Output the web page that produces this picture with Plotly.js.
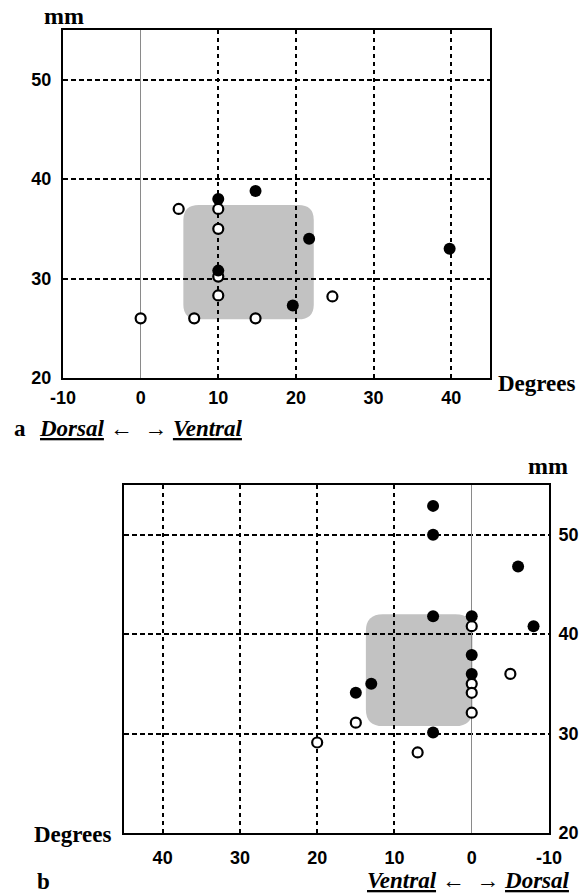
<!DOCTYPE html>
<html>
<head>
<meta charset="utf-8">
<script src="https://cdn.plot.ly/plotly-3.0.1.min.js"></script>
<style>html,body{margin:0;padding:0;background:#fff;}#chart{width:581px;height:893px;}</style>
</head>
<body>
<div id="chart"></div>
<script>
// ---- Panel a data ----
var aFilledX = [14.8, 10, 21.7, 10, 19.6, 39.8];
var aFilledY = [38.8, 38.0, 34.0, 30.8, 27.3, 33.0];
var aOpenX = [4.9, 10, 10, 10, 10, 24.7, 0, 6.9, 14.8];
var aOpenY = [37.0, 37.0, 35.0, 30.2, 28.3, 28.2, 26.0, 26.0, 26.0];
var aShade = [5.5, 22.3, 25.9, 37.4];   // x0, x1, y0, y1
var aTicksX = [-10, 0, 10, 20, 30, 40];
var aGridX = [10, 20, 30, 40];

// ---- Panel b data ----
var bFilledX = [5, 5, -6, 5, 0, -8, 0, 0, 13, 15, 5];
var bFilledY = [52.9, 50.0, 46.8, 41.8, 41.8, 40.8, 37.9, 36.0, 35.0, 34.1, 30.1];
var bOpenX = [0, -5, 0, 0, 0, 15, 20, 7];
var bOpenY = [40.8, 36.0, 35.0, 34.1, 32.1, 31.1, 29.1, 28.1];
var bShade = [13.7, -0.1, 30.75, 42.0];
var bTicksX = [40, 30, 20, 10, 0, -10];
var bGridX = [40, 30, 20, 10];

var ticksY = [20, 30, 40, 50];

var W = 581, H = 893;
function px(v){ return v / W; }
function py(v){ return 1 - v / H; }

var tickFont = {family: 'Liberation Sans, Arial, sans-serif', size: 18, color: '#000', weight: 'bold'};
var serifBold = {family: 'Liberation Serif, Times New Roman, serif', size: 23, color: '#000', weight: 'bold'};

function openTrace(x, y, xa, ya){
  return {x: x, y: y, xaxis: xa, yaxis: ya, type: 'scatter', mode: 'markers', hoverinfo: 'skip',
    marker: {size: 10, color: '#fff', line: {color: '#000', width: 2.2}}, cliponaxis: false};
}
function filledTrace(x, y, xa, ya){
  return {x: x, y: y, xaxis: xa, yaxis: ya, type: 'scatter', mode: 'markers', hoverinfo: 'skip',
    marker: {size: 12, color: '#000', line: {width: 0}}, cliponaxis: false};
}
function roundRect(s, rx, ry, xref, yref){
  var x0 = s[0], x1 = s[1], y0 = s[2], y1 = s[3];
  var sx = x1 > x0 ? 1 : -1;
  var p = 'M' + (x0 + sx*rx) + ',' + y0 +
    ' L' + (x1 - sx*rx) + ',' + y0 +
    ' Q' + x1 + ',' + y0 + ' ' + x1 + ',' + (y0 + ry) +
    ' L' + x1 + ',' + (y1 - ry) +
    ' Q' + x1 + ',' + y1 + ' ' + (x1 - sx*rx) + ',' + y1 +
    ' L' + (x0 + sx*rx) + ',' + y1 +
    ' Q' + x0 + ',' + y1 + ' ' + x0 + ',' + (y1 - ry) +
    ' L' + x0 + ',' + (y0 + ry) +
    ' Q' + x0 + ',' + y0 + ' ' + (x0 + sx*rx) + ',' + y0 + ' Z';
  return {type: 'path', path: p, xref: xref, yref: yref, fillcolor: '#c2c2c2',
    line: {width: 0}, layer: 'below'};
}

var data = [
  openTrace(aOpenX, aOpenY, 'x', 'y'),
  filledTrace(aFilledX, aFilledY, 'x3', 'y'),
  openTrace(bOpenX, bOpenY, 'x2', 'y2'),
  filledTrace(bFilledX, bFilledY, 'x4', 'y2')
];

var frame = {showline: true, mirror: true, linecolor: '#000', linewidth: 2};
var gridStyle = {gridcolor: '#000', gridwidth: 2, griddash: '5px,3px'};
var vGridStyle = {gridcolor: '#000', gridwidth: 2, griddash: '4px,4px'};

var layout = {
  width: W, height: H,
  margin: {l: 0, r: 0, t: 0, b: 0},
  paper_bgcolor: '#fff', plot_bgcolor: 'rgba(0,0,0,0)',
  showlegend: false,
  xaxis: Object.assign({domain: [px(63), px(490)], range: [-10, 45], anchor: 'y',
    tickmode: 'array', tickvals: aTicksX, ticktext: aTicksX.map(String),
    tickfont: tickFont, ticks: '', showgrid: false,
    zeroline: true, zerolinecolor: '#8a8a8a', zerolinewidth: 1,
    ticklabelstandoff: 2, fixedrange: true}, frame),
  xaxis3: Object.assign({overlaying: 'x', anchor: 'y', range: [-10, 45], tickmode: 'array',
    tickvals: aGridX, showticklabels: false, ticks: '', showgrid: true, zeroline: false,
    showline: false, fixedrange: true}, vGridStyle),
  yaxis: Object.assign({domain: [py(378), py(30)], range: [20, 55], anchor: 'x',
    tickmode: 'array', tickvals: ticksY, ticktext: ticksY.map(String),
    tickfont: tickFont, ticks: '', showgrid: true, zeroline: false,
    ticklabelstandoff: 6, fixedrange: true}, frame, gridStyle),
  xaxis2: Object.assign({domain: [px(124), px(549)], range: [45, -10], anchor: 'y2',
    tickmode: 'array', tickvals: bTicksX, ticktext: bTicksX.map(String),
    tickfont: tickFont, ticks: '', showgrid: false,
    zeroline: true, zerolinecolor: '#8a8a8a', zerolinewidth: 1,
    ticklabelstandoff: 7, fixedrange: true}, frame),
  xaxis4: Object.assign({overlaying: 'x2', anchor: 'y2', range: [45, -10], tickmode: 'array',
    tickvals: bGridX, showticklabels: false, ticks: '', showgrid: true, zeroline: false,
    showline: false, fixedrange: true}, vGridStyle),
  yaxis2: Object.assign({domain: [py(833), py(485)], range: [20, 55], anchor: 'x2', side: 'right',
    tickmode: 'array', tickvals: ticksY, ticktext: ticksY.map(String),
    tickfont: tickFont, ticks: '', showgrid: true, zeroline: false,
    ticklabelstandoff: 4, fixedrange: true}, frame, gridStyle),
  shapes: [
    roundRect(aShade, 2.0, 1.5, 'x', 'y'),
    roundRect(bShade, 2.2, 1.7, 'x2', 'y2')
  ],
  annotations: [
    {text: 'mm', x: px(64), y: py(16), xref: 'paper', yref: 'paper', xanchor: 'center', yanchor: 'middle', showarrow: false, font: Object.assign({}, serifBold, {size: 24})},
    {text: 'Degrees', x: px(537), y: py(384), xref: 'paper', yref: 'paper', xanchor: 'center', yanchor: 'middle', showarrow: false, font: serifBold},
    {text: 'a', x: px(12), y: py(428), xref: 'paper', yref: 'paper', xanchor: 'left', yanchor: 'middle', showarrow: false, font: serifBold},
    {text: '<i><b><u>Dorsal</u></b></i> ←  → <i><b><u>Ventral</u></b></i>', x: px(37), y: py(428), xref: 'paper', yref: 'paper', xanchor: 'left', yanchor: 'middle', showarrow: false, font: Object.assign({}, serifBold, {weight: 'normal'})},
    {text: 'mm', x: px(548), y: py(466), xref: 'paper', yref: 'paper', xanchor: 'center', yanchor: 'middle', showarrow: false, font: Object.assign({}, serifBold, {size: 24})},
    {text: 'Degrees', x: px(73), y: py(834), xref: 'paper', yref: 'paper', xanchor: 'center', yanchor: 'middle', showarrow: false, font: serifBold},
    {text: 'b', x: px(35), y: py(881), xref: 'paper', yref: 'paper', xanchor: 'left', yanchor: 'middle', showarrow: false, font: serifBold},
    {text: '<i><b><u>Ventral</u></b></i> ←  → <i><b><u>Dorsal</u></b></i>', x: px(572), y: py(880), xref: 'paper', yref: 'paper', xanchor: 'right', yanchor: 'middle', showarrow: false, font: Object.assign({}, serifBold, {weight: 'normal'})}
  ]
};

Plotly.newPlot('chart', data, layout, {displayModeBar: false, staticPlot: true});
</script>
</body>
</html>
